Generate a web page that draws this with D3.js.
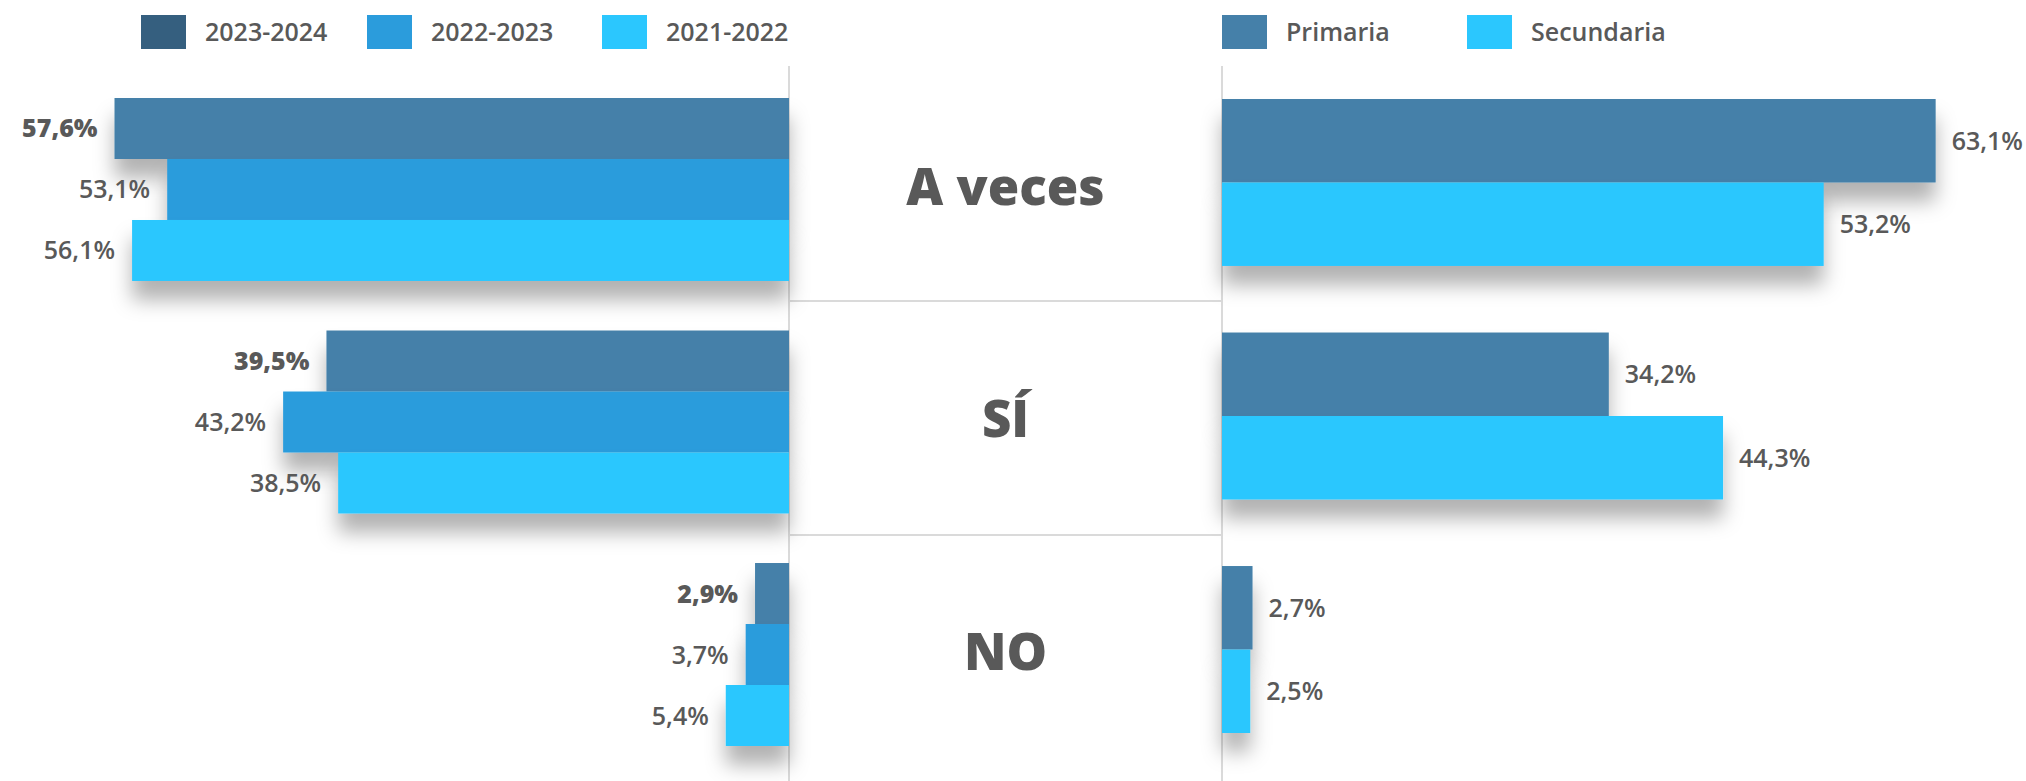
<!DOCTYPE html>
<html lang="es">
<head>
<meta charset="utf-8">
<script src="https://cdn.jsdelivr.net/npm/d3@7"></script>
<style>
  html, body { margin: 0; padding: 0; background: #ffffff; }
  svg { display: block; font-family: "Open Sans", "Noto Sans", sans-serif; }
</style>
</head>
<body>
<svg id="chart" width="2026" height="781"></svg>
<script>
// Answer categories (centre column)
const categories = ["A veces", "SÍ", "NO"];

// Left panel: school years
const yearSeries = ["2023-2024", "2022-2023", "2021-2022"];
const values2023_2024 = [57.6, 39.5, 2.9];
const values2022_2023 = [53.1, 43.2, 3.7];
const values2021_2022 = [56.1, 38.5, 5.4];

// Right panel: education level
const levelSeries = ["Primaria", "Secundaria"];
const valuesPrimaria = [63.1, 34.2, 2.7];
const valuesSecundaria = [53.2, 44.3, 2.5];

const yearValues = [values2023_2024, values2022_2023, values2021_2022];
const levelValues = [valuesPrimaria, valuesSecundaria];

const yearBarColors = ["#4580a9", "#2b9cdc", "#2bc7fe"];
const yearLegendColors = ["#355f7f", "#2b9cdc", "#2bc7fe"];
const levelColors = ["#4580a9", "#2bc7fe"];
const textColor = "#595959";
const ruleColor = "#dadada";

const svg = d3.select("#chart");
const W = 2026, H = 781;

// Soft shadow under every bar
const defs = svg.append("defs");
defs.append("filter")
  .attr("id", "barShadow")
  .attr("filterUnits", "userSpaceOnUse")
  .attr("x", 0).attr("y", 0).attr("width", W).attr("height", H)
  .append("feDropShadow")
  .attr("dx", 0).attr("dy", 19)
  .attr("stdDeviation", 10)
  .attr("flood-color", "#000")
  .attr("flood-opacity", 0.3);

const comma = d3.formatLocale({ decimal: ",", thousands: ".", grouping: [3], currency: ["", "€"] });
const fmt = v => comma.format(".1f")(v) + "%";

// Scales
const leftZero = 789, rightZero = 1222;
const xLeft = d3.scaleLinear().domain([0, 100]).range([leftZero, leftZero - 1171]);
const xRight = d3.scaleLinear().domain([0, 100]).range([rightZero, rightZero + 1131]);

const yLeft = d3.scaleBand().domain(categories).range([98, 746]).paddingInner(0.213);
const yLeftInner = d3.scaleBand().domain(yearSeries).range([0, yLeft.bandwidth()]);
const yRight = d3.scaleBand().domain(categories).range([99, 733]).paddingInner(0.285);
const yRightInner = d3.scaleBand().domain(levelSeries).range([0, yRight.bandwidth()]);

// Frame of the centre column
const rules = svg.append("g").attr("stroke", ruleColor).attr("stroke-width", 2);
[leftZero, rightZero].forEach(x => {
  rules.append("line").attr("x1", x).attr("x2", x).attr("y1", 66).attr("y2", H);
});
categories.slice(1).forEach((c, i) => {
  const prev = categories[i];
  const midL = (yLeft(prev) + yLeft.bandwidth() + yLeft(c)) / 2;
  const midR = (yRight(prev) + yRight.bandwidth() + yRight(c)) / 2;
  const y = Math.round((midL + midR) / 2) - 1;
  rules.append("line").attr("x1", leftZero).attr("x2", rightZero).attr("y1", y).attr("y2", y);
});

// Left bars
const leftG = svg.append("g");
categories.forEach((cat, ci) => {
  yearSeries.forEach((s, si) => {
    const v = yearValues[si][ci];
    leftG.append("rect")
      .attr("x", xLeft(v))
      .attr("y", yLeft(cat) + yLeftInner(s))
      .attr("width", leftZero - xLeft(v))
      .attr("height", yLeftInner.bandwidth())
      .attr("fill", yearBarColors[si])
      .attr("filter", "url(#barShadow)");
  });
});
categories.forEach((cat, ci) => {
  yearSeries.forEach((s, si) => {
    const v = yearValues[si][ci];
    leftG.append("text")
      .attr("x", xLeft(v) - 17)
      .attr("y", yLeft(cat) + yLeftInner(s) + yLeftInner.bandwidth() / 2)
      .attr("dy", "0.36em")
      .attr("text-anchor", "end")
      .attr("font-size", 25)
      .attr("font-weight", si === 0 ? 800 : 600)
      .attr("fill", textColor)
      .text(fmt(v));
  });
});

// Right bars
const rightG = svg.append("g");
categories.forEach((cat, ci) => {
  levelSeries.forEach((s, si) => {
    const v = levelValues[si][ci];
    rightG.append("rect")
      .attr("x", rightZero)
      .attr("y", yRight(cat) + yRightInner(s))
      .attr("width", xRight(v) - rightZero)
      .attr("height", yRightInner.bandwidth())
      .attr("fill", levelColors[si])
      .attr("filter", "url(#barShadow)");
  });
});
categories.forEach((cat, ci) => {
  levelSeries.forEach((s, si) => {
    const v = levelValues[si][ci];
    rightG.append("text")
      .attr("x", xRight(v) + 16)
      .attr("y", yRight(cat) + yRightInner(s) + yRightInner.bandwidth() / 2)
      .attr("dy", "0.36em")
      .attr("font-size", 25)
      .attr("font-weight", 600)
      .attr("fill", textColor)
      .text(fmt(v));
  });
});

// Category labels in the centre column
svg.append("g").selectAll("text").data(categories).join("text")
  .attr("x", (leftZero + rightZero) / 2)
  .attr("y", d => yLeft(d) + yLeft.bandwidth() / 2 - 3)
  .attr("dy", "0.36em")
  .attr("text-anchor", "middle")
  .attr("font-size", 51)
  .attr("font-weight", 800)
  .attr("fill", textColor)
  .text(d => d);

// Legends
function legend(items, colors, xs) {
  const g = svg.append("g");
  items.forEach((name, i) => {
    g.append("rect").attr("x", xs[i]).attr("y", 15).attr("width", 45).attr("height", 34).attr("fill", colors[i]);
    g.append("text")
      .attr("x", xs[i] + 64).attr("y", 32).attr("dy", "0.36em")
      .attr("font-size", 25).attr("font-weight", 600)
      .attr("fill", textColor)
      .text(name);
  });
}
legend(yearSeries, yearLegendColors, [141, 367, 602]);
legend(levelSeries, levelColors, [1222, 1467]);
</script>
</body>
</html>
